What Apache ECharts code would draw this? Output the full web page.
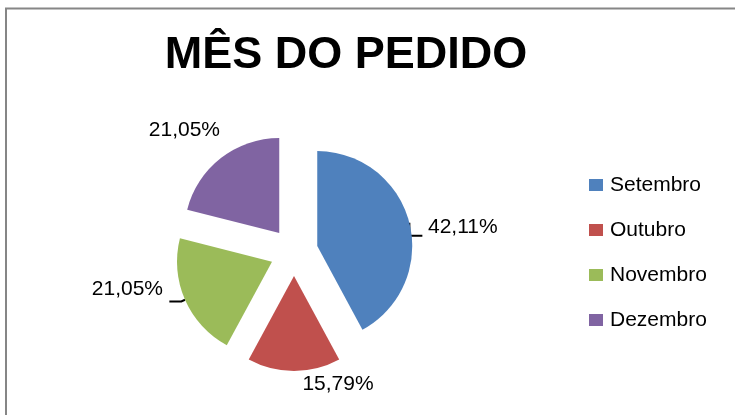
<!DOCTYPE html>
<html>
<head>
<meta charset="utf-8">
<script src="https://cdn.jsdelivr.net/npm/echarts@6/dist/echarts.min.js"></script>
<style>
  html, body { margin: 0; padding: 0; background: #fff; }
  #chart { width: 735px; height: 415px; }
</style>
</head>
<body>
<div id="chart"></div>
<script>
// Mês do pedido - share of orders per month
const months = ["Setembro", "Outubro", "Novembro", "Dezembro"];
const percents = [42.11, 15.79, 21.05, 21.05];
const colors = ["#4F81BD", "#C0504D", "#9BBB59", "#8064A2"];

const font = "'Liberation Sans', Arial, sans-serif";
const explode = 24;

const chart = echarts.init(document.getElementById("chart"));

const pieData = months.map((m, i) => ({
  name: m,
  value: percents[i],
  selected: true,
  itemStyle: { color: colors[i] },
  // excel only draws the leader lines for the far labels
  labelLine: { show: i === 0 || i === 2 },
}));

// where excel's "best fit" put the label boxes: [anchor x, middle y, which edge]
const labelSpots = [
  [428, 227, "left"],
  [338, 384, "center"],
  [163, 289, "right"],
  [220, 130, "right"],
];

// middle angle of each slice (clockwise from 12 o'clock), for the explode offset
const total = percents.reduce((a, b) => a + b, 0);
const midAngles = [];
let acc = 0;
percents.forEach((v) => {
  midAngles.push(((acc + v / 2) / total) * 2 * Math.PI);
  acc += v;
});

function placeLabel(p) {
  const r = p.labelRect;
  const s = labelSpots[p.dataIndex];
  const a = midAngles[p.dataIndex];
  const ox = explode * Math.sin(a);
  const oy = -explode * Math.cos(a);
  let cur = r.x;
  if (s[2] === "center") cur = r.x + r.width / 2;
  if (s[2] === "right") cur = r.x + r.width;
  const out = {
    dx: s[0] - cur - ox,
    dy: s[1] - (r.y + r.height / 2) - oy,
  };
  if (p.dataIndex === 0 && p.labelLinePoints) {
    // little "L" shaped leader like excel draws
    const e = p.labelLinePoints[0];
    out.labelLinePoints = [
      [e[0], e[1]],
      [e[0], e[1] + 13],
      [e[0] + 13, e[1] + 13],
    ];
  }
  return out;
}

const option = {
  animation: false,
  title: {
    text: "MÊS DO PEDIDO",
    left: 341,
    top: 28,
    textAlign: "center",
    textStyle: {
      fontFamily: font,
      fontWeight: "bold",
      fontSize: 45,
      color: "#000",
    },
  },
  legend: {
    orient: "vertical",
    left: 589,
    top: 174,
    padding: 0,
    itemWidth: 14,
    itemHeight: 12,
    itemGap: 23,
    icon: "rect",
    selectedMode: false,
    data: months,
    textStyle: {
      fontFamily: font,
      fontSize: 21,
      lineHeight: 22,
      color: "#000",
      padding: [0, 0, 0, 2],
    },
  },
  graphic: [
    {
      type: "rect",
      shape: { x: 6, y: 8.5, width: 900, height: 600 },
      style: { fill: null, stroke: "#868686", lineWidth: 2 },
      silent: true,
    },
  ],
  series: [
    {
      type: "pie",
      center: [294, 252],
      radius: [0, 95],
      startAngle: 90,
      clockwise: true,
      selectedMode: "multiple",
      selectedOffset: explode,
      avoidLabelOverlap: false,
      emphasis: { disabled: true },
      itemStyle: { borderWidth: 0 },
      label: {
        show: true,
        position: "outside",
        fontFamily: font,
        fontSize: 21,
        color: "#000",
        formatter: (p) => p.value.toFixed(2).replace(".", ",") + "%",
      },
      labelLine: {
        length: 4,
        length2: 12,
        lineStyle: { color: "#000", width: 2 },
      },
      labelLayout: placeLabel,
      data: pieData,
    },
  ],
};

chart.setOption(option);
</script>
</body>
</html>
